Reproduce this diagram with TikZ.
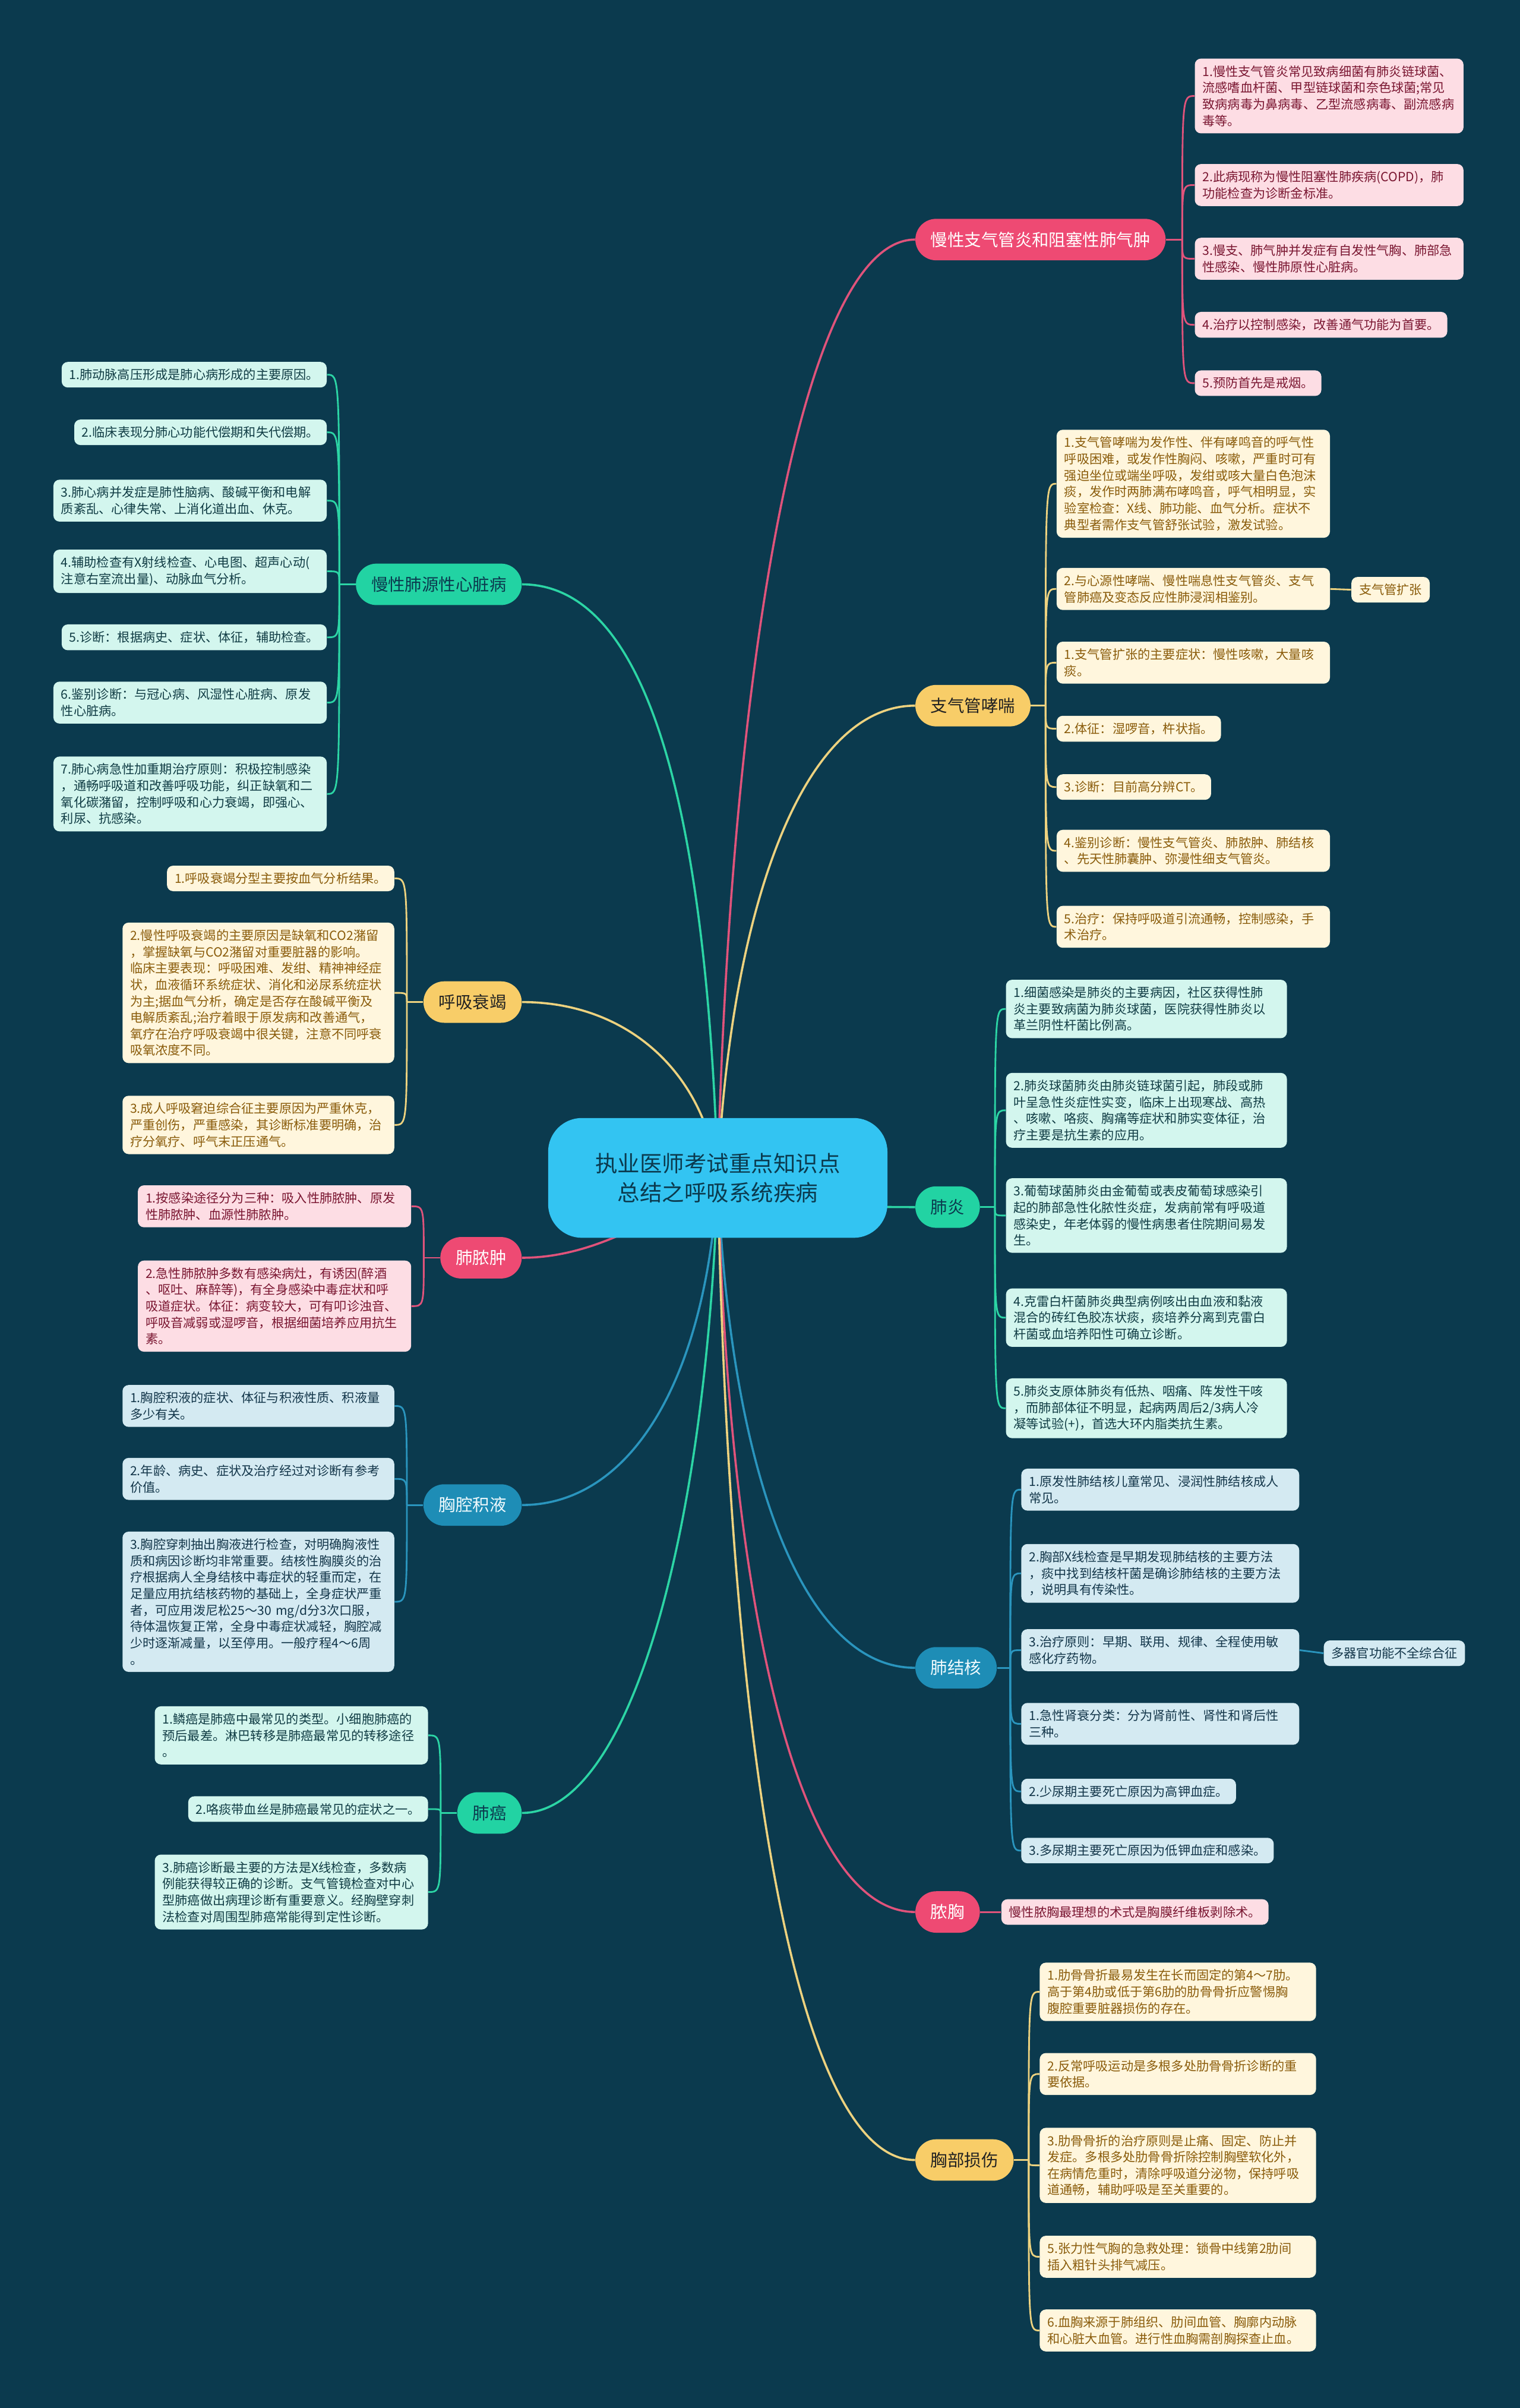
\documentclass[tikz,border=0pt]{standalone}
\usepackage{fontspec}
\setmainfont{Noto Sans CJK SC}
\definecolor{bgc}{HTML}{0B3A4E}
\definecolor{rootF}{HTML}{33C4F2}
\definecolor{rootT}{HTML}{0B3A4E}
\definecolor{pinkB}{HTML}{EE4A73}
\definecolor{pinkL}{HTML}{FDDDE4}
\definecolor{pinkT}{HTML}{7A1631}
\definecolor{pinkLn}{HTML}{E0537B}
\definecolor{yelB}{HTML}{F8CD68}
\definecolor{yelBT}{HTML}{222222}
\definecolor{yelL}{HTML}{FFF6DD}
\definecolor{yelT}{HTML}{8A5C0B}
\definecolor{yelLn}{HTML}{EDD27F}
\definecolor{mintB}{HTML}{22D3A3}
\definecolor{mintBT}{HTML}{0B3A4E}
\definecolor{mintL}{HTML}{D3F6EE}
\definecolor{mintT}{HTML}{103C44}
\definecolor{mintLn}{HTML}{2CD5A5}
\definecolor{blueB}{HTML}{1E8DB6}
\definecolor{blueBT}{HTML}{F0FAFD}
\definecolor{blueL}{HTML}{D4EAF2}
\definecolor{blueT}{HTML}{13364A}
\definecolor{blueLn}{HTML}{2A95BE}
\newcommand\leaffont{\fontsize{8.2}{10.7}\selectfont}
\newcommand\brfont{\fontsize{11}{13}\selectfont}
\pgfdeclarelayer{bgfill}
\pgfdeclarelayer{links}
\pgfsetlayers{bgfill,links,main}
\tikzset{
  leaf/.style={rounded corners=4pt, inner xsep=5pt, inner ysep=4.5pt, align=left, font=\leaffont},
  lP/.style={leaf, fill=pinkL, text=pinkT},
  lY/.style={leaf, fill=yelL, text=yelT},
  lM/.style={leaf, fill=mintL, text=mintT},
  lB/.style={leaf, fill=blueL, text=blueT},
  br/.style={rounded corners=13.5pt, minimum height=27pt, inner xsep=10pt, font=\brfont},
  bP/.style={br, fill=pinkB, text=white},
  bY/.style={br, fill=yelB, text=yelBT},
  bM/.style={br, fill=mintB, text=mintBT},
  bB/.style={br, fill=blueB, text=blueBT},
  rootbox/.style={fill=rootF, text=rootT, rounded corners=22pt, minimum width=221pt, minimum height=78pt, align=center, font=\fontsize{14.5}{19}\selectfont},
  mainln/.style={line width=1.4pt},
  subln/.style={line width=1.1pt},
  nP/.style={pinkLn}, nY/.style={yelLn}, nM/.style={mintLn}, nB/.style={blueLn},
}
\begin{document}
\begin{tikzpicture}[x=1pt,y=-1pt]
\begin{pgfonlayer}{bgfill}
\fill[bgc] (0,0) rectangle (990,1568);
\end{pgfonlayer}
\useasboundingbox (0,0) rectangle (990,1568);

% root
\node[rootbox] (root) at (467.5,767) {执业医师考试重点知识点\\总结之呼吸系统疾病};

% ---------- right main branches
\node[bP, anchor=west] (B1) at (596,156) {慢性支气管炎和阻塞性肺气肿};
\node[bY, anchor=west] (B2) at (596,459.5) {支气管哮喘};
\node[bM, anchor=west] (B3) at (596,786) {肺炎};
\node[bB, anchor=west] (B4) at (596,1086) {肺结核};
\node[bP, anchor=west] (B5) at (596,1245) {脓胸};
\node[bY, anchor=west] (B6) at (596,1406.5) {胸部损伤};
% ---------- left main branches
\node[bM, anchor=east] (A1) at (340,380.5) {慢性肺源性心脏病};
\node[bY, anchor=east] (A2) at (340,652.5) {呼吸衰竭};
\node[bP, anchor=east] (A3) at (340,819) {肺脓肿};
\node[bB, anchor=east] (A4) at (340,980) {胸腔积液};
\node[bM, anchor=east] (A5) at (340,1180.5) {肺癌};

% ---------- B1 leaves
\node[lP, anchor=west, text width=165pt] (L1) at (778,62.5) {1.慢性支气管炎常见致病细菌有肺炎链球菌、\\流感嗜血杆菌、甲型链球菌和奈色球菌;常见\\致病病毒为鼻病毒、乙型流感病毒、副流感病\\毒等。};
\node[lP, anchor=west, text width=165pt] (L2) at (778,120.5) {2.此病现称为慢性阻塞性肺疾病(COPD)，肺\\功能检查为诊断金标准。};
\node[lP, anchor=west, text width=165pt] (L3) at (778,168.5) {3.慢支、肺气肿并发症有自发性气胸、肺部急\\性感染、慢性肺原性心脏病。};
\node[lP, anchor=west] (L4) at (778,211.5) {4.治疗以控制感染，改善通气功能为首要。};
\node[lP, anchor=west] (L5) at (778,249.5) {5.预防首先是戒烟。};

% ---------- B2 leaves
\node[lY, anchor=west, text width=168pt] (Y1) at (688,315) {1.支气管哮喘为发作性、伴有哮鸣音的呼气性\\呼吸困难，或发作性胸闷、咳嗽，严重时可有\\强迫坐位或端坐呼吸，发绀或咳大量白色泡沫\\痰，发作时两肺满布哮鸣音，呼气相明显，实\\验室检查：X线、肺功能、血气分析。症状不\\典型者需作支气管舒张试验，激发试验。};
\node[lY, anchor=west, text width=168pt] (Y2) at (688,383.5) {2.与心源性哮喘、慢性喘息性支气管炎、支气\\管肺癌及变态反应性肺浸润相鉴别。};
\node[lY, anchor=west] (ZK) at (880,384) {支气管扩张};
\node[lY, anchor=west, text width=168pt] (Y3) at (688,431.5) {1.支气管扩张的主要症状：慢性咳嗽，大量咳\\痰。};
\node[lY, anchor=west] (Y4) at (688,474.5) {2.体征：湿啰音，杵状指。};
\node[lY, anchor=west] (Y5) at (688,512.5) {3.诊断：目前高分辨CT。};
\node[lY, anchor=west, text width=168pt] (Y6) at (688,554) {4.鉴别诊断：慢性支气管炎、肺脓肿、肺结核\\、先天性肺囊肿、弥漫性细支气管炎。};
\node[lY, anchor=west, text width=168pt] (Y7) at (688,603.5) {5.治疗：保持呼吸道引流通畅，控制感染，手\\术治疗。};

% ---------- B3 leaves
\node[lM, anchor=west, text width=173pt] (G1) at (655,657) {1.细菌感染是肺炎的主要病因，社区获得性肺\\炎主要致病菌为肺炎球菌，医院获得性肺炎以\\革兰阴性杆菌比例高。};
\node[lM, anchor=west, text width=173pt] (G2) at (655,723) {2.肺炎球菌肺炎由肺炎链球菌引起，肺段或肺\\叶呈急性炎症性实变，临床上出现寒战、高热\\、咳嗽、咯痰、胸痛等症状和肺实变体征，治\\疗主要是抗生素的应用。};
\node[lM, anchor=west, text width=173pt] (G3) at (655,791.5) {3.葡萄球菌肺炎由金葡萄或表皮葡萄球感染引\\起的肺部急性化脓性炎症，发病前常有呼吸道\\感染史，年老体弱的慢性病患者住院期间易发\\生。};
\node[lM, anchor=west, text width=173pt] (G4) at (655,858) {4.克雷白杆菌肺炎典型病例咳出由血液和黏液\\混合的砖红色胶冻状痰，痰培养分离到克雷白\\杆菌或血培养阳性可确立诊断。};
\node[lM, anchor=west, text width=173pt] (G5) at (655,917) {5.肺炎支原体肺炎有低热、咽痛、阵发性干咳\\，而肺部体征不明显，起病两周后2/3病人冷\\凝等试验(+)，首选大环内脂类抗生素。};

% ---------- B4 leaves
\node[lB, anchor=west, text width=171pt] (T1) at (665,970) {1.原发性肺结核儿童常见、浸润性肺结核成人\\常见。};
\node[lB, anchor=west, text width=171pt] (T2) at (665,1024.5) {2.胸部X线检查是早期发现肺结核的主要方法\\，痰中找到结核杆菌是确诊肺结核的主要方法\\，说明具有传染性。};
\node[lB, anchor=west, text width=171pt] (T3) at (665,1074.5) {3.治疗原则：早期、联用、规律、全程使用敏\\感化疗药物。};
\node[lB, anchor=west] (DQ) at (862,1076.5) {多器官功能不全综合征};
\node[lB, anchor=west, text width=171pt] (T4) at (665,1122.5) {1.急性肾衰分类：分为肾前性、肾性和肾后性\\三种。};
\node[lB, anchor=west] (T5) at (665,1166.5) {2.少尿期主要死亡原因为高钾血症。};
\node[lB, anchor=west] (T6) at (665,1205) {3.多尿期主要死亡原因为低钾血症和感染。};

% ---------- B5 leaf
\node[lP, anchor=west] (N1) at (652,1245) {慢性脓胸最理想的术式是胸膜纤维板剥除术。};

% ---------- B6 leaves
\node[lY, anchor=west, text width=170pt] (H1) at (677,1297) {1.肋骨骨折最易发生在长而固定的第4～7肋。\\高于第4肋或低于第6肋的肋骨骨折应警惕胸\\腹腔重要脏器损伤的存在。};
\node[lY, anchor=west, text width=170pt] (H2) at (677,1350.5) {2.反常呼吸运动是多根多处肋骨骨折诊断的重\\要依据。};
\node[lY, anchor=west, text width=170pt] (H3) at (677,1410) {3.肋骨骨折的治疗原则是止痛、固定、防止并\\发症。多根多处肋骨骨折除控制胸壁软化外，\\在病情危重时，清除呼吸道分泌物，保持呼吸\\道通畅，辅助呼吸是至关重要的。};
\node[lY, anchor=west, text width=170pt] (H4) at (677,1469.5) {5.张力性气胸的急救处理：锁骨中线第2肋间\\插入粗针头排气减压。};
\node[lY, anchor=west, text width=170pt] (H5) at (677,1517.5) {6.血胸来源于肺组织、肋间血管、胸廓内动脉\\和心脏大血管。进行性血胸需剖胸探查止血。};

% ---------- A1 leaves
\node[lM, anchor=east] (C1) at (213,244) {1.肺动脉高压形成是肺心病形成的主要原因。};
\node[lM, anchor=east] (C2) at (213,281.5) {2.临床表现分肺心功能代偿期和失代偿期。};
\node[lM, anchor=east, text width=168pt] (C3) at (213,326) {3.肺心病并发症是肺性脑病、酸碱平衡和电解\\质紊乱、心律失常、上消化道出血、休克。};
\node[lM, anchor=east, text width=168pt] (C4) at (213,372) {4.辅助检查有X射线检查、心电图、超声心动(\\注意右室流出量)、动脉血气分析。};
\node[lM, anchor=east] (C5) at (213,415) {5.诊断：根据病史、症状、体征，辅助检查。};
\node[lM, anchor=east, text width=168pt] (C6) at (213,457.5) {6.鉴别诊断：与冠心病、风湿性心脏病、原发\\性心脏病。};
\node[lM, anchor=east, text width=168pt] (C7) at (213,517) {7.肺心病急性加重期治疗原则：积极控制感染\\，通畅呼吸道和改善呼吸功能，纠正缺氧和二\\氧化碳潴留，控制呼吸和心力衰竭，即强心、\\利尿、抗感染。};

% ---------- A2 leaves
\node[lY, anchor=east] (R1) at (257,572) {1.呼吸衰竭分型主要按血气分析结果。};
\node[lY, anchor=east, text width=167pt] (R2) at (257,646.5) {2.慢性呼吸衰竭的主要原因是缺氧和CO2潴留\\，掌握缺氧与CO2潴留对重要脏器的影响。\\临床主要表现：呼吸困难、发绀、精神神经症\\状，血液循环系统症状、消化和泌尿系统症状\\为主;据血气分析，确定是否存在酸碱平衡及\\电解质紊乱;治疗着眼于原发病和改善通气，\\氧疗在治疗呼吸衰竭中很关键，注意不同呼衰\\吸氧浓度不同。};
\node[lY, anchor=east, text width=167pt] (R3) at (257,732.5) {3.成人呼吸窘迫综合征主要原因为严重休克，\\严重创伤，严重感染，其诊断标准要明确，治\\疗分氧疗、呼气末正压通气。};

% ---------- A3 leaves
\node[lP, anchor=east, text width=168pt] (P1) at (268,785.5) {1.按感染途径分为三种：吸入性肺脓肿、原发\\性肺脓肿、血源性肺脓肿。};
\node[lP, anchor=east, text width=168pt] (P2) at (268,850.5) {2.急性肺脓肿多数有感染病灶，有诱因(醉酒\\、呕吐、麻醉等)，有全身感染中毒症状和呼\\吸道症状。体征：病变较大，可有叩诊浊音、\\呼吸音减弱或湿啰音，根据细菌培养应用抗生\\素。};

% ---------- A4 leaves
\node[lB, anchor=east, text width=167pt] (Q1) at (257,915.5) {1.胸腔积液的症状、体征与积液性质、积液量\\多少有关。};
\node[lB, anchor=east, text width=167pt] (Q2) at (257,963) {2.年龄、病史、症状及治疗经过对诊断有参考\\价值。};
\node[lB, anchor=east, text width=167pt] (Q3) at (257,1043) {3.胸腔穿刺抽出胸液进行检查，对明确胸液性\\质和病因诊断均非常重要。结核性胸膜炎的治\\疗根据病人全身结核中毒症状的轻重而定，在\\足量应用抗结核药物的基础上，全身症状严重\\者，可应用泼尼松25～30 mg/d分3次口服，\\待体温恢复正常，全身中毒症状减轻，胸腔减\\少时逐渐减量，以至停用。一般疗程4～6周\\。};

% ---------- A5 leaves
\node[lM, anchor=east, text width=168pt] (K1) at (279,1130) {1.鳞癌是肺癌中最常见的类型。小细胞肺癌的\\预后最差。淋巴转移是肺癌最常见的转移途径\\。};
\node[lM, anchor=east] (K2) at (279,1178) {2.咯痰带血丝是肺癌最常见的症状之一。};
\node[lM, anchor=east, text width=168pt] (K3) at (279,1232) {3.肺癌诊断最主要的方法是X线检查，多数病\\例能获得较正确的诊断。支气管镜检查对中心\\型肺癌做出病理诊断有重要意义。经胸壁穿刺\\法检查对周围型肺癌常能得到定性诊断。};

% ---------- main connectors (behind root)
\begin{pgfonlayer}{links}
\draw[mainln, nP] (root.center) .. controls (475,450) and (520,156) .. (B1.west);
\draw[mainln, nY] (root.center) .. controls (475,600) and (520,459.5) .. (B2.west);
\draw[mainln, nM] (root.center) .. controls (520,786) and (560,786) .. (B3.west);
\draw[mainln, nB] (root.center) .. controls (475,950) and (520,1086) .. (B4.west);
\draw[mainln, nP] (root.center) .. controls (475,1050) and (520,1245) .. (B5.west);
\draw[mainln, nY] (root.center) .. controls (475,1150) and (520,1406.5) .. (B6.west);
\draw[mainln, nM] (root.center) .. controls (460,520) and (420,380.5) .. (A1.east);
\draw[mainln, nY] (root.center) .. controls (460,700) and (410,652.5) .. (A2.east);
\draw[mainln, nP] (root.center) .. controls (420,800) and (380,819) .. (A3.east);
\draw[mainln, nB] (root.center) .. controls (460,900) and (410,980) .. (A4.east);
\draw[mainln, nM] (root.center) .. controls (460,1000) and (410,1180.5) .. (A5.east);
\end{pgfonlayer}

% ---------- brackets right
\coordinate (B1j) at (770,156);
\coordinate (B2j) at (681,459.5);
\coordinate (B3j) at (648,786);
\coordinate (B4j) at (658,1086);
\coordinate (B6j) at (670,1406.5);
\draw[subln, nP] (B1.east) -- (B1j);
\draw[subln, nY] (B2.east) -- (B2j);
\draw[subln, nM] (B3.east) -- (B3j);
\draw[subln, nB] (B4.east) -- (B4j);
\draw[subln, nY] (B6.east) -- (B6j);
\foreach \c in {L1,L2,L3,L4,L5}
  \draw[subln, nP] (B1j) .. controls (B1j |- \c.west) and (B1j |- \c.west) .. (\c.west);
\foreach \c in {Y1,Y2,Y3,Y4,Y5,Y6,Y7}
  \draw[subln, nY] (B2j) .. controls (B2j |- \c.west) and (B2j |- \c.west) .. (\c.west);
\foreach \c in {G1,G2,G3,G4,G5}
  \draw[subln, nM] (B3j) .. controls (B3j |- \c.west) and (B3j |- \c.west) .. (\c.west);
\foreach \c in {T1,T2,T3,T4,T5,T6}
  \draw[subln, nB] (B4j) .. controls (B4j |- \c.west) and (B4j |- \c.west) .. (\c.west);
\foreach \c in {H1,H2,H3,H4,H5}
  \draw[subln, nY] (B6j) .. controls (B6j |- \c.west) and (B6j |- \c.west) .. (\c.west);
\draw[subln, nP] (B5.east) -- (N1.west);
\draw[subln, nY] (Y2.east) -- (ZK.west);
\draw[subln, nB] (T3.east) -- (DQ.west);

% ---------- brackets left
\coordinate (A1j) at (221,380.5);
\coordinate (A2j) at (265,652.5);
\coordinate (A3j) at (276,819);
\coordinate (A4j) at (265,980);
\coordinate (A5j) at (287,1180.5);
\draw[subln, nM] (A1.west) -- (A1j);
\draw[subln, nY] (A2.west) -- (A2j);
\draw[subln, nP] (A3.west) -- (A3j);
\draw[subln, nB] (A4.west) -- (A4j);
\draw[subln, nM] (A5.west) -- (A5j);
\foreach \c in {C1,C2,C3,C4,C5,C6,C7}
  \draw[subln, nM] (A1j) .. controls (A1j |- \c.east) and (A1j |- \c.east) .. (\c.east);
\foreach \c in {R1,R2,R3}
  \draw[subln, nY] (A2j) .. controls (A2j |- \c.east) and (A2j |- \c.east) .. (\c.east);
\foreach \c in {P1,P2}
  \draw[subln, nP] (A3j) .. controls (A3j |- \c.east) and (A3j |- \c.east) .. (\c.east);
\foreach \c in {Q1,Q2,Q3}
  \draw[subln, nB] (A4j) .. controls (A4j |- \c.east) and (A4j |- \c.east) .. (\c.east);
\foreach \c in {K1,K2,K3}
  \draw[subln, nM] (A5j) .. controls (A5j |- \c.east) and (A5j |- \c.east) .. (\c.east);
\end{tikzpicture}
\end{document}
